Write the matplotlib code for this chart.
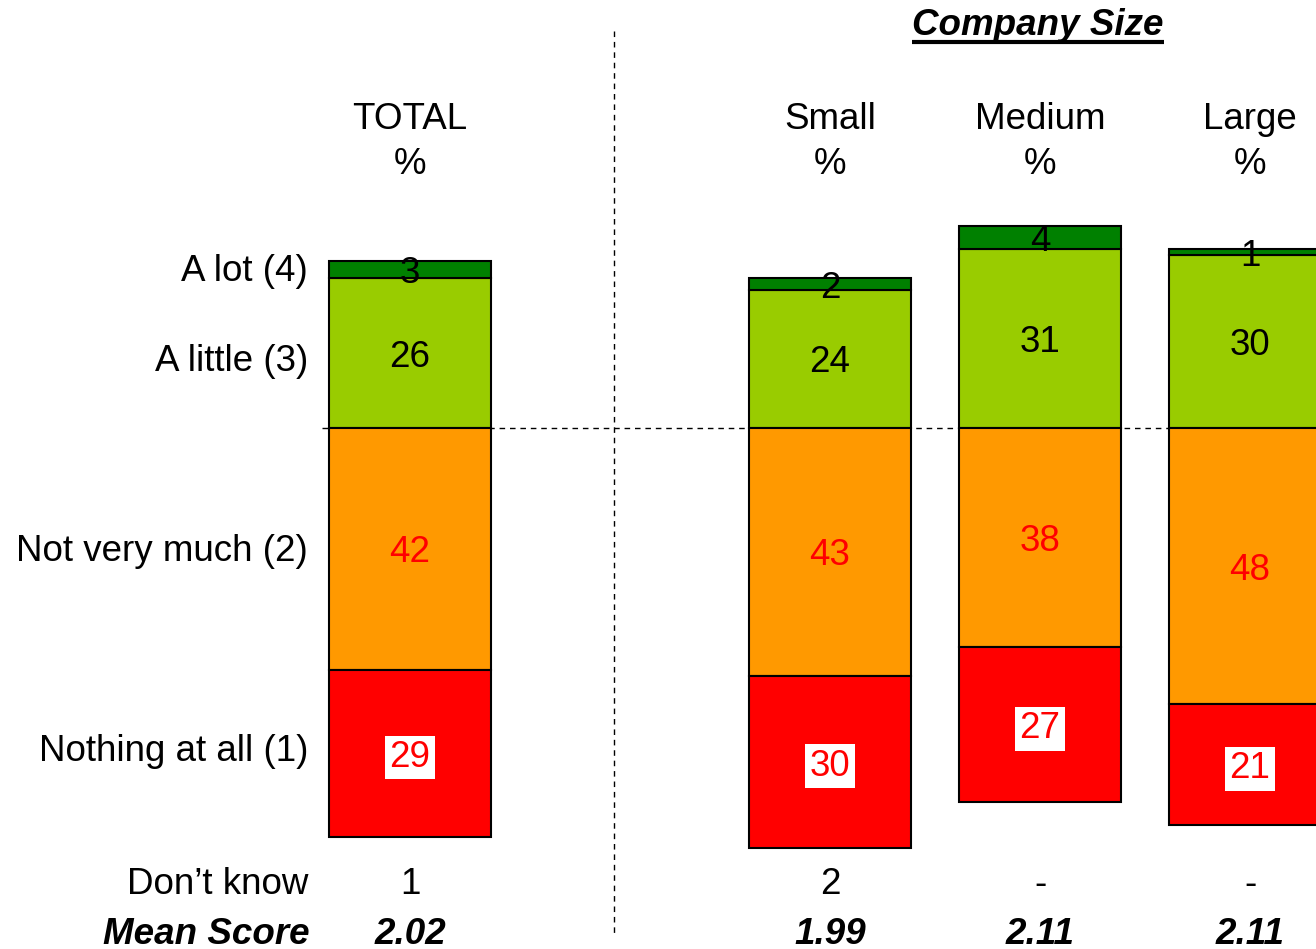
import matplotlib.pyplot as plt
import numpy as np

plt.rcParams['font.family'] = ['Liberation Sans', 'DejaVu Sans']

groups = ['TOTAL', 'Small', 'Medium', 'Large']
pos = np.array([0, 2, 3, 4])
a_lot = [3, 2, 4, 1]
a_little = [26, 24, 31, 30]
not_much = [42, 43, 38, 48]
nothing = [29, 30, 27, 21]
dont_know = ['1', '2', '-', '-']
mean_score = ['2.02', '1.99', '2.11', '2.11']
cats = ['A lot (4)', 'A little (3)', 'Not very much (2)', 'Nothing at all (1)']

c_lot = '#008000'
c_little = '#99CC00'
c_not = '#FF9900'
c_nothing = '#FF0000'

fig = plt.figure(figsize=(13.16, 9.49), dpi=100)
ax = fig.add_axes([0, 0, 1, 1])
ax.set_xlim(-410 / 210, 906 / 210)
ax.set_ylim(-90.45, 74.3)
ax.axis('off')

w = 0.77
fs = 26.5
dy = -0.7  # nudge text so glyphs sit visually centred
a_lot = np.array(a_lot); a_little = np.array(a_little)
not_much = np.array(not_much); nothing = np.array(nothing)

# baseline and divider
ax.plot([-0.42, 5], [0, 0], color='black', lw=1, ls=(0, (4, 3.5)), zorder=1)
ax.plot([0.971, 0.971], [69, -88], color='black', lw=1, ls=(0, (4, 3.5)), zorder=1)

kw = dict(width=w, edgecolor='black', linewidth=1.5, zorder=2)
ax.bar(pos, a_little, bottom=0, color=c_little, **kw)
ax.bar(pos, a_lot, bottom=a_little, color=c_lot, **kw)
ax.bar(pos, -not_much, bottom=0, color=c_not, **kw)
ax.bar(pos, -nothing, bottom=-not_much, color=c_nothing, **kw)

for i, x in enumerate(pos):
    ax.text(x, a_little[i] + a_lot[i] / 2 + dy, str(a_lot[i]), ha='center', va='center',
            fontsize=fs, color='black', zorder=3)
    ax.text(x, a_little[i] / 2 + dy, str(a_little[i]), ha='center', va='center',
            fontsize=fs, color='black', zorder=3)
    ax.text(x, -not_much[i] / 2 + dy, str(not_much[i]), ha='center', va='center',
            fontsize=fs, color='red', zorder=3)
    ax.text(x, -not_much[i] - nothing[i] / 2 + dy, str(nothing[i]), ha='center', va='center',
            fontsize=fs, color='red', zorder=3,
            bbox=dict(boxstyle='square,pad=0.12', fc='white', ec='none'))
    ax.text(x, 54.2 + dy, groups[i], ha='center', va='center', fontsize=fs)
    ax.text(x, 46.5 + dy, '%', ha='center', va='center', fontsize=fs)
    ax.text(x, -78.6 + dy, dont_know[i], ha='center', va='center', fontsize=fs)
    ax.text(x, -87.2 + dy, mean_score[i], ha='center', va='center', fontsize=fs,
            fontweight='bold', fontstyle='italic')

# row labels
lx = -102 / 210
for lab, y in zip(cats, [27.8, 12.2, -20.8, -55.4]):
    ax.text(lx, y + dy, lab, ha='right', va='center', fontsize=fs)
ax.text(lx, -78.6 + dy, 'Don\u2019t know', ha='right', va='center', fontsize=fs)
ax.text(lx + 0.01, -87.2 + dy, 'Mean Score', ha='right', va='center', fontsize=fs,
        fontweight='bold', fontstyle='italic')

# underlined title over the size columns
t = ax.text(628 / 210, 70.5 + dy, 'Company Size', ha='center', va='center', fontsize=fs,
            fontweight='bold', fontstyle='italic')
fig.canvas.draw()
bb = t.get_window_extent().transformed(ax.transData.inverted())
ax.plot([bb.x0, bb.x1], [bb.y0 + 0.2, bb.y0 + 0.2], color='black', lw=3, solid_capstyle='butt')

fig.savefig('out.png', dpi=100)
